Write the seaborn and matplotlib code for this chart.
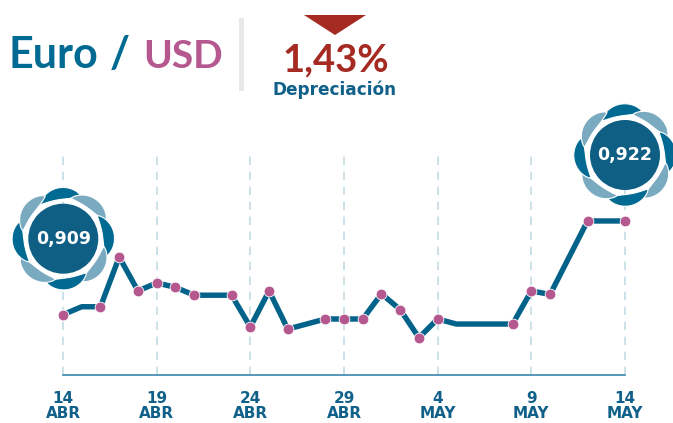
import numpy as np
import pandas as pd
import matplotlib
matplotlib.use("Agg")
import matplotlib.pyplot as plt
from matplotlib.patches import Circle, Polygon, Rectangle
import seaborn as sns

days = list(range(31))
values = [0.9090, 0.9101, 0.9101, 0.9170, 0.9123, 0.9134, 0.9128, 0.9117, 0.9117, 0.9117,
          0.9073, 0.9123, 0.9070, 0.9077, 0.9084, 0.9084, 0.9084, 0.9119, 0.9097, 0.9058,
          0.9084, 0.9077, 0.9077, 0.9077, 0.9077, 0.9123, 0.9118, 0.9169, 0.9220, 0.9220, 0.9220]
marker_days = [0, 2, 3, 4, 5, 6, 7, 9, 10, 11, 12, 14, 15, 16, 17, 18, 19, 20, 24, 25, 26, 28, 30]
tick_days = [0, 5, 10, 15, 20, 25, 30]
tick_labels = ["14\nABR", "19\nABR", "24\nABR", "29\nABR", "4\nMAY", "9\nMAY", "14\nMAY"]

BLUE = "#03628a"
DARK = "#0f5f85"
TEAL = "#006a92"
LIGHT = "#7aaabf"
PINK = "#b5588f"
RED = "#a52a22"
W, H = 673, 423

sns.set_theme(style="white")
plt.rcParams["font.family"] = ["DejaVu Sans"]

df = pd.DataFrame({"day": days, "value": values})
dm = df[df["day"].isin(marker_days)]

fig = plt.figure(figsize=(W / 100, H / 100), dpi=100)
ax = fig.add_axes([63 / W, 1 - 375 / H, (625 - 63) / W, (375 - 153) / H])
sns.lineplot(data=df, x="day", y="value", ax=ax, color=BLUE, linewidth=3.9, clip_on=False,
             solid_joinstyle="round", zorder=3)
sns.scatterplot(data=dm, x="day", y="value", ax=ax, color=PINK, s=60, edgecolor="white",
                linewidth=0.6, clip_on=False, zorder=4)
ax.set_xlim(0, 30)
ax.set_ylim(0.90063, 0.93143)
ax.set_xlabel("")
ax.set_ylabel("")
ax.set_yticks([])
ax.set_xticks(tick_days)
ax.set_xticklabels(tick_labels, fontsize=11, fontweight="bold", color="#10608a", linespacing=0.98)
ax.tick_params(axis="x", length=0, pad=11.5)
ax.grid(axis="x", color="#c3dbe4", linestyle=(0, (5, 4)), linewidth=1.2)
for gl in ax.get_xgridlines():
    gl.set_clip_on(False)
ax.set_axisbelow(True)
sns.despine(ax=ax, left=True)
ax.spines["bottom"].set_color("#3a86a8")
ax.spines["bottom"].set_linewidth(1.2)

ov = fig.add_axes([0, 0, 1, 1], zorder=5)
ov.set_xlim(0, W)
ov.set_ylim(H, 0)
ov.axis("off")
ov.patch.set_alpha(0)


def badge(cx, cy, value):
    n = 8
    for i in range(n):
        col = TEAL if i % 2 == 0 else LIGHT
        a0 = np.deg2rad(124 - i * 45)
        span = np.deg2rad(56)
        t = np.linspace(0, 1, 60)
        outer = 41 + 5 * t + 7.5 * np.sin(np.pi * t) ** 0.7
        inner = 39 + 2 * (1 - t) ** 6 + 7 * t ** 5
        th = a0 - span * t
        xo = cx + outer * np.cos(th)
        yo = cy - outer * np.sin(th)
        xi = cx + inner[::-1] * np.cos(th[::-1])
        yi = cy - inner[::-1] * np.sin(th[::-1])
        ov.add_patch(Polygon(np.column_stack([np.r_[xo, xi], np.r_[yo, yi]]), closed=True,
                             facecolor=col, edgecolor="white", linewidth=0.8, zorder=1))
    ov.add_patch(Circle((cx, cy), 35, facecolor=DARK, edgecolor="none", zorder=3))
    ov.text(cx, cy, f"{value:.3f}".replace(".", ","), color="white", fontsize=12.5,
            fontweight="bold", ha="center", va="center", zorder=4)


badge(63.3, 238.7, values[0])
badge(625, 155, values[-1])

ov.text(9, 68, "Euro", fontsize=31, fontweight="bold", color=TEAL, family="Lato", va="baseline", ha="left")
ov.text(120, 68, "/", fontsize=31, fontweight="bold", color=TEAL, family="Lato", va="baseline", ha="center")
ov.text(143, 68, "USD", fontsize=28, fontweight="bold", color=PINK, family="Lato", va="baseline", ha="left")
ov.add_patch(Rectangle((239, 18), 5, 73, facecolor="#e8e8e8", edgecolor="none"))
ov.add_patch(Polygon([(304, 15), (366, 15), (335, 35)], closed=True, facecolor=RED, edgecolor="none"))
ov.text(336, 71, "1,43%", fontsize=27.5, fontweight="bold", color=RED, family="Lato", ha="center", va="baseline")
ov.text(335, 95, "Depreciación", fontsize=12.2, fontweight="bold", color="#10608a", ha="center", va="baseline")

fig.savefig("out.png", dpi=100)
